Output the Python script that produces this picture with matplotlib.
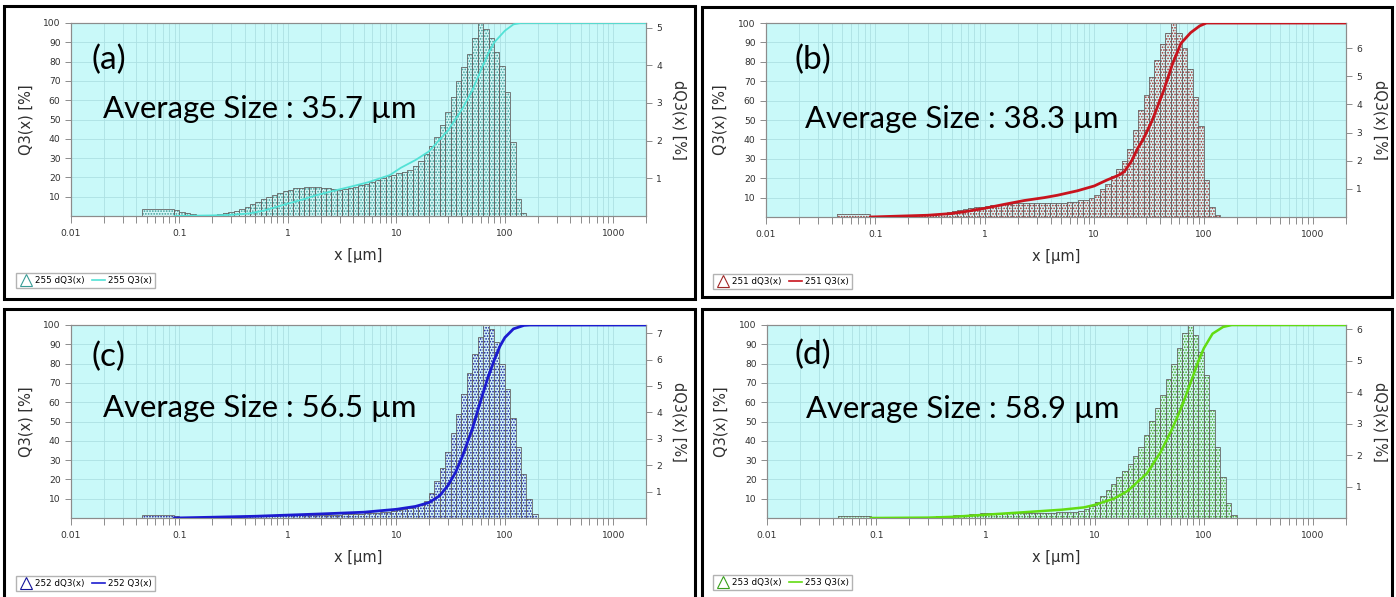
import matplotlib
matplotlib.use("Agg")
import matplotlib.pyplot as plt
from matplotlib.lines import Line2D
from matplotlib.patches import Rectangle
from matplotlib.ticker import LogLocator, NullFormatter
import numpy as np

# ---------------------------------------------------------------------------
# Size classes (µm): one wide class below 0.09 µm, then 20 classes per decade
# ---------------------------------------------------------------------------
CLASS_EDGES = [
    0.0447, 0.0891,
    0.1, 0.112, 0.126, 0.141, 0.158, 0.178, 0.2, 0.224, 0.251, 0.282,
    0.316, 0.355, 0.398, 0.447, 0.501, 0.562, 0.631, 0.708, 0.794, 0.891,
    1.0, 1.12, 1.26, 1.41, 1.58, 1.78, 2.0, 2.24, 2.51, 2.82,
    3.16, 3.55, 3.98, 4.47, 5.01, 5.62, 6.31, 7.08, 7.94, 8.91,
    10, 11.2, 12.6, 14.1, 15.8, 17.8, 20, 22.4, 25.1, 28.2,
    31.6, 35.5, 39.8, 44.7, 50.1, 56.2, 63.1, 70.8, 79.4, 89.1,
    100, 112, 126, 141, 158, 178, 200, 224,
]

# dQ3(x) per class [%]
DQ3_255 = [
    0.19,
    0.15, 0.11, 0.07, 0.05, 0.03, 0.03, 0.03, 0.03, 0.05, 0.07,
    0.10, 0.14, 0.18, 0.24, 0.31, 0.38, 0.44, 0.50, 0.56, 0.61,
    0.66, 0.69, 0.73, 0.75, 0.77, 0.78, 0.77, 0.75, 0.73, 0.71,
    0.70, 0.71, 0.73, 0.77, 0.81, 0.86, 0.90, 0.95, 1.00, 1.05,
    1.09, 1.13, 1.18, 1.23, 1.33, 1.46, 1.64, 1.87, 2.10, 2.41,
    2.76, 3.17, 3.58, 3.94, 4.30, 4.71, 5.12, 4.97, 4.71, 4.35,
    3.99, 3.28, 1.95, 0.46, 0.08, 0.0, 0.0, 0.0,
]
DQ3_251 = [
    0.10,
    0.04, 0.03, 0.03, 0.03, 0.03, 0.03, 0.03, 0.04, 0.06, 0.07,
    0.08, 0.10, 0.12, 0.15, 0.19, 0.21, 0.25, 0.28, 0.32, 0.34,
    0.37, 0.40, 0.42, 0.44, 0.45, 0.47, 0.48, 0.48, 0.48, 0.48,
    0.48, 0.48, 0.48, 0.49, 0.50, 0.51, 0.52, 0.55, 0.59, 0.62,
    0.69, 0.79, 1.00, 1.17, 1.45, 1.72, 2.00, 2.41, 3.10, 3.79,
    4.34, 4.96, 5.58, 6.13, 6.55, 6.89, 6.55, 5.99, 5.24, 4.27,
    3.24, 1.31, 0.34, 0.06, 0.0, 0.0, 0.0, 0.0,
]
DQ3_252 = [
    0.12,
    0.06, 0.05, 0.05, 0.05, 0.05, 0.05, 0.05, 0.05, 0.06, 0.06,
    0.07, 0.07, 0.07, 0.07, 0.07, 0.08, 0.08, 0.09, 0.09, 0.10,
    0.10, 0.10, 0.10, 0.10, 0.10, 0.11, 0.11, 0.12, 0.12, 0.12,
    0.13, 0.14, 0.15, 0.15, 0.16, 0.18, 0.19, 0.20, 0.22, 0.24,
    0.26, 0.29, 0.33, 0.38, 0.44, 0.51, 0.66, 0.95, 1.39, 1.90,
    2.49, 3.22, 3.95, 4.68, 5.48, 6.21, 6.87, 7.31, 7.16, 6.65,
    5.85, 4.90, 3.80, 2.70, 1.68, 0.73, 0.15, 0.0,
]
DQ3_253 = [
    0.05,
    0.03, 0.03, 0.03, 0.03, 0.03, 0.03, 0.03, 0.03, 0.03, 0.03,
    0.03, 0.04, 0.05, 0.06, 0.07, 0.09, 0.10, 0.11, 0.12, 0.13,
    0.15, 0.15, 0.15, 0.15, 0.15, 0.15, 0.15, 0.15, 0.15, 0.15,
    0.15, 0.16, 0.17, 0.17, 0.18, 0.18, 0.19, 0.20, 0.21, 0.28,
    0.37, 0.52, 0.70, 0.89, 1.07, 1.29, 1.50, 1.72, 1.96, 2.27,
    2.64, 3.07, 3.49, 3.92, 4.41, 4.90, 5.39, 5.88, 6.13, 5.82,
    5.27, 4.54, 3.43, 2.27, 1.29, 0.49, 0.09, 0.0,
]

# Q3(x) cumulative curves [%]
Q3_X_255 = [0.09, 0.2, 0.3, 0.45, 0.6, 0.9, 1.3, 1.86, 2.7, 3.8, 5.5, 8.7, 11,
            15, 20, 30, 40, 50, 60, 70, 80, 100, 120, 140, 2000]
Q3_255 = [0, 0.3, 0.6, 1.4, 2.8, 5.7, 8.2, 10.9, 13.2, 15.2, 17.5, 21.2, 25,
          29, 33.5, 44.5, 55, 65, 75.5, 84, 90, 96, 99.3, 100, 100]
Q3_X_251 = [0.09, 0.3, 0.5, 0.7, 1, 1.5, 2.3, 3.5, 4.6, 7, 10, 13, 16.6, 18.8,
            22, 25, 28, 34, 43, 52, 62, 76, 92, 106, 2000]
Q3_251 = [0, 0.9, 1.8, 3.0, 4.5, 6.5, 8.5, 10, 11.2, 13.5, 16, 19, 21.5, 23.3,
          29, 35.5, 40, 50, 65, 79, 89.5, 95, 98.5, 100, 100]
Q3_X_252 = [0.09, 0.2, 0.5, 1, 2, 5, 10, 15, 20, 25, 30, 35, 40, 50, 60, 70,
            80, 90, 100, 120, 150, 170, 2000]
Q3_252 = [0, 0.4, 0.9, 1.5, 2.1, 3.0, 4.5, 6.0, 8.0, 11.5, 17, 23.5, 31, 46,
          61, 73, 82, 89, 93.5, 98, 99.8, 100, 100]
Q3_X_253 = [0.09, 0.3, 0.5, 1, 2, 5, 8, 10, 15, 20, 30, 40, 50, 60, 70, 80,
            90, 100, 120, 150, 180, 2000]
Q3_253 = [0, 0.2, 0.6, 1.7, 2.8, 4.3, 5.5, 6.8, 10, 14, 23, 34, 45, 55, 65,
          74, 82, 88, 95.5, 99, 100, 100]

PANEL_TAGS = ["(a)", "(b)", "(c)", "(d)"]
SAMPLE_IDS = ["255", "251", "252", "253"]
AVERAGE_SIZES = [35.7, 38.3, 56.5, 58.9]
DQ3_AXIS_MAX = [5.12, 6.89, 7.31, 6.13]

LINE_COLORS = ["#52e2d6", "#c8141e", "#1c1cd0", "#62dc12"]
LINE_WIDTHS = [1.3, 2.0, 2.0, 1.8]
DOT_COLORS = ["#3a9c96", "#a02828", "#14149a", "#38a01c"]

BG = "#c9f9f9"
GRID = "#ade0e3"
SPINE = "#8c8c8c"
BAR_FACE = "#d2f6f6"
BAR_EDGE = "#666666"

W, H = 1396, 597


def frac(left, top, right, bottom):
    """Pixel box (origin top-left) -> figure fraction rect."""
    return [left / W, 1 - bottom / H, (right - left) / W, (bottom - top) / H]


# plot boxes, outer frames, text anchors and legend anchors in pixels
PLOT_BOX = [(71, 23, 646, 216), (766, 23, 1346, 217),
            (71, 325, 646, 518), (767, 325, 1346, 518)]
FRAME_BOX = [(4, 6, 695, 299), (702, 7, 1392, 297),
             (4, 309, 695, 605), (702, 309, 1392, 605)]
TAG_POS = [(92, 69), (794, 69), (92, 366), (794, 364)]
AVG_POS = [(103, 118), (805, 128), (103, 417), (806, 418)]
LEGEND_POS = [(16, 288), (713, 289), (16, 591), (713, 590)]

plt.rcParams["hatch.linewidth"] = 0.8
plt.rcParams["font.family"] = ["DejaVu Sans"]

fig = plt.figure(figsize=(W / 100, H / 100), dpi=100)

edges = np.array(CLASS_EDGES)
lefts = edges[:-1]
widths = np.diff(edges)

panels = [
    (DQ3_255, Q3_X_255, Q3_255),
    (DQ3_251, Q3_X_251, Q3_251),
    (DQ3_252, Q3_X_252, Q3_252),
    (DQ3_253, Q3_X_253, Q3_253),
]

for i, (dq3, q3_x, q3) in enumerate(panels):
    ax = fig.add_axes(frac(*PLOT_BOX[i]))
    ax.set_facecolor(BG)
    ax.set_xscale("log")
    ax.set_xlim(0.01, 2000)
    ax.set_ylim(0, 100)
    ax.set_yticks(range(10, 101, 10))
    ax.set_xticks([0.01, 0.1, 1, 10, 100, 1000],
                  labels=["0.01", "0.1", "1", "10", "100", "1000"])
    ax.xaxis.set_minor_locator(LogLocator(base=10, subs=range(2, 10), numticks=20))
    ax.xaxis.set_minor_formatter(NullFormatter())
    ax.grid(which="both", axis="x", color=GRID, lw=0.6)
    ax.grid(which="major", axis="y", color=GRID, lw=0.6)
    ax.tick_params(axis="both", which="both", direction="out", color=SPINE,
                   labelsize=6.6, labelcolor="#303030", length=4, width=0.7)
    ax.tick_params(axis="x", which="both", length=5, pad=4)
    ax.set_ylabel("Q3(x) [%]", fontsize=10.5, color="#303030")
    ax.yaxis.set_label_coords(-0.066, 0.5)
    ax.set_xlabel("x [µm]", fontsize=10.5, color="#303030")
    ax.xaxis.set_label_coords(0.5, -0.165)

    # dQ3 histogram on the right-hand scale
    bars = ax.twinx()
    bars.set_ylim(0, DQ3_AXIS_MAX[i])
    bars.set_yticks(range(1, int(DQ3_AXIS_MAX[i]) + 1))
    bars.bar(lefts, dq3, width=widths, align="edge", facecolor=BAR_FACE,
             edgecolor=DOT_COLORS[i], hatch="......", linewidth=0)
    bars.bar(lefts, dq3, width=widths, align="edge", fill=False,
             edgecolor=BAR_EDGE, linewidth=0.6)
    bars.tick_params(axis="y", direction="out", color=SPINE, labelsize=6.6,
                     labelcolor="#303030", length=4, width=0.7)
    bars.set_ylabel("dQ3(x) [%]", fontsize=10.5, color="#303030",
                    rotation=270, va="bottom")
    bars.yaxis.set_label_coords(1.045, 0.5)

    # Q3 cumulative curve on top
    curve = ax.twinx()
    curve.set_ylim(0, 100)
    curve.set_axis_off()
    curve.plot(q3_x, q3, color=LINE_COLORS[i], lw=LINE_WIDTHS[i],
               solid_joinstyle="round")

    for a in (ax, bars):
        for s in a.spines.values():
            s.set_color(SPINE)
            s.set_linewidth(0.8)

    # annotations
    tx, ty = TAG_POS[i]
    fig.text(tx / W, 1 - ty / H, PANEL_TAGS[i], family="Lato", fontsize=24,
             va="baseline", ha="left")
    axx, axy = AVG_POS[i]
    fig.text(axx / W, 1 - axy / H, f"Average Size : {AVERAGE_SIZES[i]} µm",
             family="Lato", fontsize=22.3, va="baseline", ha="left")

    # legend
    handles = [
        Line2D([], [], marker="^", markersize=8, markerfacecolor="none",
               markeredgecolor=DOT_COLORS[i], markeredgewidth=0.8, linestyle="none"),
        Line2D([], [], color=LINE_COLORS[i], lw=1.2),
    ]
    lx, ly = LEGEND_POS[i]
    fig.legend(handles, [f"{SAMPLE_IDS[i]} dQ3(x)", f"{SAMPLE_IDS[i]} Q3(x)"],
               loc="lower left", bbox_to_anchor=(lx / W, 1 - ly / H),
               ncol=2, fontsize=6.3, frameon=True, fancybox=False,
               edgecolor="#a0a0a0", borderaxespad=0, borderpad=0.35,
               handlelength=1.5, handletextpad=0.3, columnspacing=0.9)

    # black frame around the panel
    l, t, r, b = FRAME_BOX[i]
    fig.patches.append(Rectangle((l / W, 1 - b / H), (r - l) / W, (b - t) / H,
                                 transform=fig.transFigure, fill=False,
                                 edgecolor="black", linewidth=2.2))

fig.savefig("out.png", dpi=100, facecolor="white")
